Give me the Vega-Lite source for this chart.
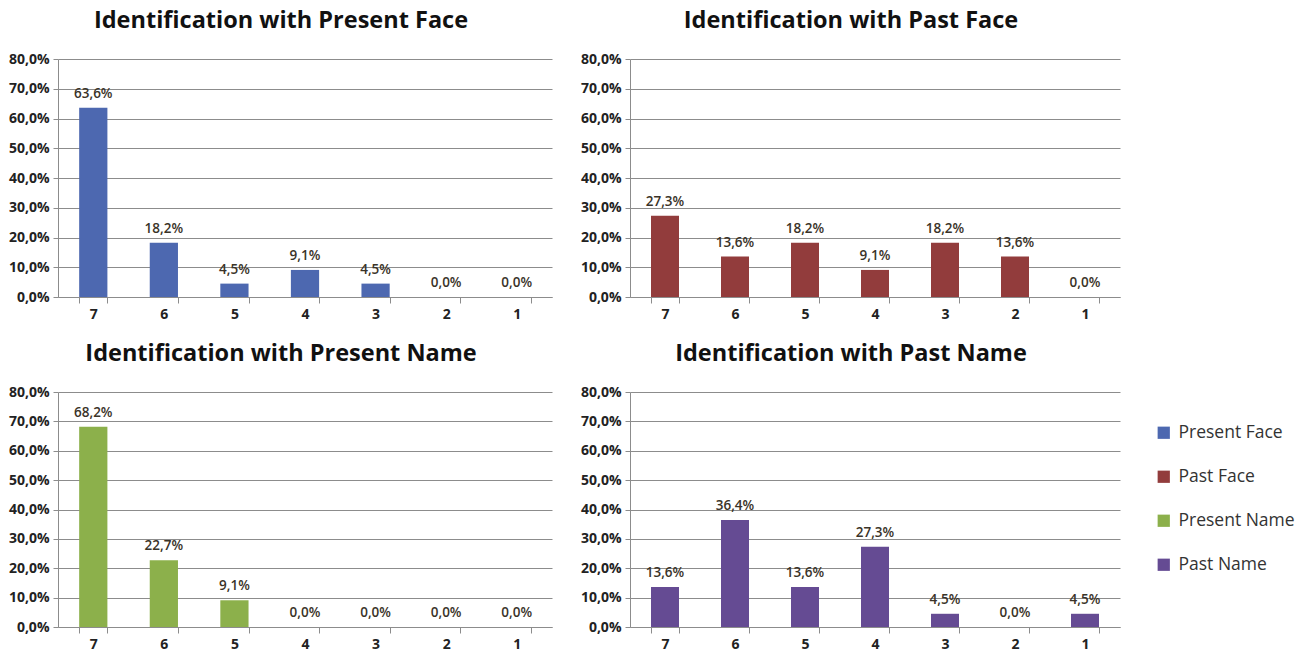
{
  "$schema": "https://vega.github.io/schema/vega-lite/v6.json",
  "background": "white",
  "padding": {"left": 8, "top": 8, "right": 5, "bottom": 0},
  "data": {
    "values": [
      {"series": "Present Face", "score": "7", "pct": 0.636},
      {"series": "Present Face", "score": "6", "pct": 0.182},
      {"series": "Present Face", "score": "5", "pct": 0.045},
      {"series": "Present Face", "score": "4", "pct": 0.091},
      {"series": "Present Face", "score": "3", "pct": 0.045},
      {"series": "Present Face", "score": "2", "pct": 0.0},
      {"series": "Present Face", "score": "1", "pct": 0.0},
      {"series": "Past Face", "score": "7", "pct": 0.273},
      {"series": "Past Face", "score": "6", "pct": 0.136},
      {"series": "Past Face", "score": "5", "pct": 0.182},
      {"series": "Past Face", "score": "4", "pct": 0.091},
      {"series": "Past Face", "score": "3", "pct": 0.182},
      {"series": "Past Face", "score": "2", "pct": 0.136},
      {"series": "Past Face", "score": "1", "pct": 0.0},
      {"series": "Present Name", "score": "7", "pct": 0.682},
      {"series": "Present Name", "score": "6", "pct": 0.227},
      {"series": "Present Name", "score": "5", "pct": 0.091},
      {"series": "Present Name", "score": "4", "pct": 0.0},
      {"series": "Present Name", "score": "3", "pct": 0.0},
      {"series": "Present Name", "score": "2", "pct": 0.0},
      {"series": "Present Name", "score": "1", "pct": 0.0},
      {"series": "Past Name", "score": "7", "pct": 0.136},
      {"series": "Past Name", "score": "6", "pct": 0.364},
      {"series": "Past Name", "score": "5", "pct": 0.136},
      {"series": "Past Name", "score": "4", "pct": 0.273},
      {"series": "Past Name", "score": "3", "pct": 0.045},
      {"series": "Past Name", "score": "2", "pct": 0.0},
      {"series": "Past Name", "score": "1", "pct": 0.045}
    ]
  },
  "columns": 2,
  "spacing": {"column": 28, "row": 20},
  "concat": [
    {
      "title": {"text": "Identification with Present Face", "dx": -24},
      "width": 494, "height": 238,
      "transform": [{"filter": "datum.series === 'Present Face'"}],
      "encoding": {
        "x": {"field": "score", "type": "nominal", "sort": ["7","6","5","4","3","2","1"], "scale": {"paddingInner": 0.6, "paddingOuter": 0.3}},
        "y": {"field": "pct", "type": "quantitative", "scale": {"domain": [0, 0.8], "nice": false}}
      },
      "layer": [
        {"mark": {"type": "bar"}, "encoding": {"color": {"field": "series", "type": "nominal", "scale": {"domain": ["Present Face","Past Face","Present Name","Past Name"], "range": ["#4d68b0","#923c3c","#8cb04b","#654b93"]}, "legend": null}}},
        {"mark": {"type": "text", "baseline": "alphabetic", "dy": -10, "fontSize": 13.5, "fontWeight": 600, "color": "#3a3328"}, "encoding": {"text": {"field": "pct", "type": "quantitative", "format": ".1%"}}}
      ]
    },
    {
      "title": {"text": "Identification with Past Face", "dx": -24},
      "width": 490, "height": 238,
      "transform": [{"filter": "datum.series === 'Past Face'"}],
      "encoding": {
        "x": {"field": "score", "type": "nominal", "sort": ["7","6","5","4","3","2","1"], "scale": {"paddingInner": 0.6, "paddingOuter": 0.3}},
        "y": {"field": "pct", "type": "quantitative", "scale": {"domain": [0, 0.8], "nice": false}}
      },
      "layer": [
        {"mark": {"type": "bar"}, "encoding": {"color": {"field": "series", "type": "nominal", "scale": {"domain": ["Present Face","Past Face","Present Name","Past Name"], "range": ["#4d68b0","#923c3c","#8cb04b","#654b93"]}, "legend": null}}},
        {"mark": {"type": "text", "baseline": "alphabetic", "dy": -10, "fontSize": 13.5, "fontWeight": 600, "color": "#3a3328"}, "encoding": {"text": {"field": "pct", "type": "quantitative", "format": ".1%"}}}
      ]
    },
    {
      "title": {"text": "Identification with Present Name", "dx": -24},
      "width": 494, "height": 235,
      "transform": [{"filter": "datum.series === 'Present Name'"}],
      "encoding": {
        "x": {"field": "score", "type": "nominal", "sort": ["7","6","5","4","3","2","1"], "scale": {"paddingInner": 0.6, "paddingOuter": 0.3}},
        "y": {"field": "pct", "type": "quantitative", "scale": {"domain": [0, 0.8], "nice": false}}
      },
      "layer": [
        {"mark": {"type": "bar"}, "encoding": {"color": {"field": "series", "type": "nominal", "scale": {"domain": ["Present Face","Past Face","Present Name","Past Name"], "range": ["#4d68b0","#923c3c","#8cb04b","#654b93"]}, "legend": null}}},
        {"mark": {"type": "text", "baseline": "alphabetic", "dy": -10, "fontSize": 13.5, "fontWeight": 600, "color": "#3a3328"}, "encoding": {"text": {"field": "pct", "type": "quantitative", "format": ".1%"}}}
      ]
    },
    {
      "title": {"text": "Identification with Past Name", "dx": -24},
      "width": 490, "height": 235,
      "transform": [{"filter": "datum.series === 'Past Name'"}],
      "encoding": {
        "x": {"field": "score", "type": "nominal", "sort": ["7","6","5","4","3","2","1"], "scale": {"paddingInner": 0.6, "paddingOuter": 0.3}},
        "y": {"field": "pct", "type": "quantitative", "scale": {"domain": [0, 0.8], "nice": false}}
      },
      "layer": [
        {"mark": {"type": "bar"}, "encoding": {"color": {"field": "series", "type": "nominal", "scale": {"domain": ["Present Face","Past Face","Present Name","Past Name"], "range": ["#4d68b0","#923c3c","#8cb04b","#654b93"]}, "legend": {"orient": "none", "legendX": 525, "legendY": 32, "title": null, "symbolType": "square", "symbolSize": 150, "symbolStrokeWidth": 0, "labelFontSize": 17.5, "labelColor": "#333333", "rowPadding": 25, "labelOffset": 6}}}},
        {"mark": {"type": "text", "baseline": "alphabetic", "dy": -10, "fontSize": 13.5, "fontWeight": 600, "color": "#3a3328"}, "encoding": {"text": {"field": "pct", "type": "quantitative", "format": ".1%"}}}
      ]
    }
  ],
  "resolve": {"scale": {"color": "independent", "x": "independent", "y": "independent"}, "legend": {"color": "independent"}},
  "config": {
    "locale": {"number": {"decimal": ",", "thousands": ".", "grouping": [3], "currency": ["", " €"]}},
    "font": "Open Sans",
    "view": {"stroke": null},
    "title": {"fontSize": 23.5, "fontWeight": "bold", "color": "#111111", "anchor": "middle", "offset": 20},
    "axisX": {"title": null, "labelAngle": 0, "domainColor": "#8c8c8c", "tickColor": "#8c8c8c", "tickSize": 6, "tickBand": "extent", "labelFontSize": 14, "labelFontWeight": "bold", "labelColor": "#222222", "labelPadding": 4, "grid": false},
    "axisY": {"title": null, "values": [0, 0.1, 0.2, 0.3, 0.4, 0.5, 0.6, 0.7, 0.8], "format": ".1%", "grid": true, "gridColor": "#8c8c8c", "gridOpacity": 1, "domainColor": "#8c8c8c", "tickColor": "#8c8c8c", "tickSize": 5, "labelFontSize": 14, "labelFontWeight": "bold", "labelColor": "#222222", "labelPadding": 4}
  }
}
